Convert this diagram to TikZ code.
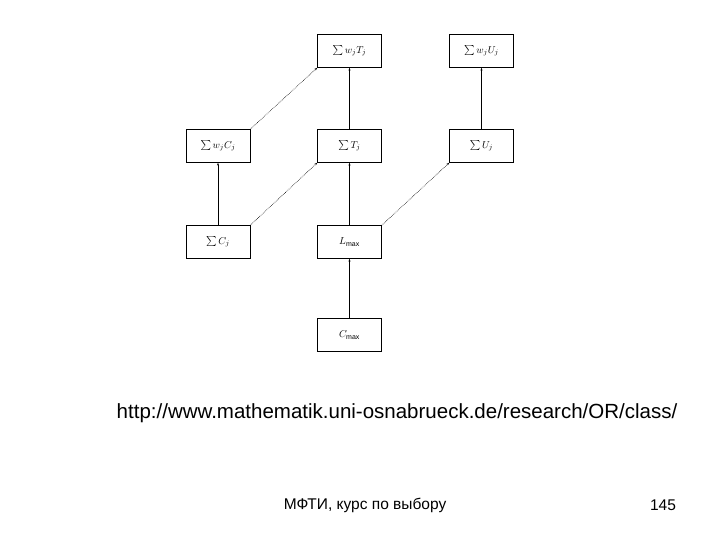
\documentclass[tikz,border=0pt]{standalone}
\usepackage{fontspec}
\setmainfont{Liberation Sans}
\usetikzlibrary{arrows.meta}
\begin{document}
\begin{tikzpicture}[x=1pt,y=-1pt,
 box/.style={draw,thin,minimum width=64pt,minimum height=33pt,inner sep=0pt,font=\fontsize{10}{11}\selectfont},
 sol/.style={-{Stealth[length=3pt,width=2pt]},thin},
 dot/.style={-{Stealth[length=3pt,width=2pt]},semithick,densely dotted}]
\useasboundingbox (0,0) rectangle (720,540);
\node[box] (wT) at (349.5,51) {$\sum w_jT_j$};
\node[box] (wU) at (481.5,51) {$\sum w_jU_j$};
\node[box] (wC) at (218,146) {$\sum w_jC_j$};
\node[box] (T) at (349.5,146) {$\sum T_j$};
\node[box] (U) at (481.5,146) {$\sum U_j$};
\node[box] (C) at (218,242) {$\sum C_j$};
\node[box] (L) at (349.5,242) {$L_{\max}$};
\node[box] (Cm) at (349.5,335) {$C_{\max}$};
\draw[sol] (C) -- (wC);
\draw[sol] (L) -- (T);
\draw[sol] (T) -- (wT);
\draw[sol] (U) -- (wU);
\draw[sol] (Cm) -- (L);
\draw[dot] (wC.north east) -- (wT.south west);
\draw[dot] (C.north east) -- (T.south west);
\draw[dot] (L.north east) -- (U.south west);
\node[font=\fontsize{20.5}{24}\selectfont] (url) at (397,413) {http://www.mathematik.uni-osnabrueck.de/research/OR/class/};
\node[font=\fontsize{15.5}{18}\selectfont] (ft) at (365,505) {МФТИ, курс по выбору};
\node[font=\fontsize{15.5}{18}\selectfont] (pg) at (663,505) {145};
\end{tikzpicture}
\end{document}
